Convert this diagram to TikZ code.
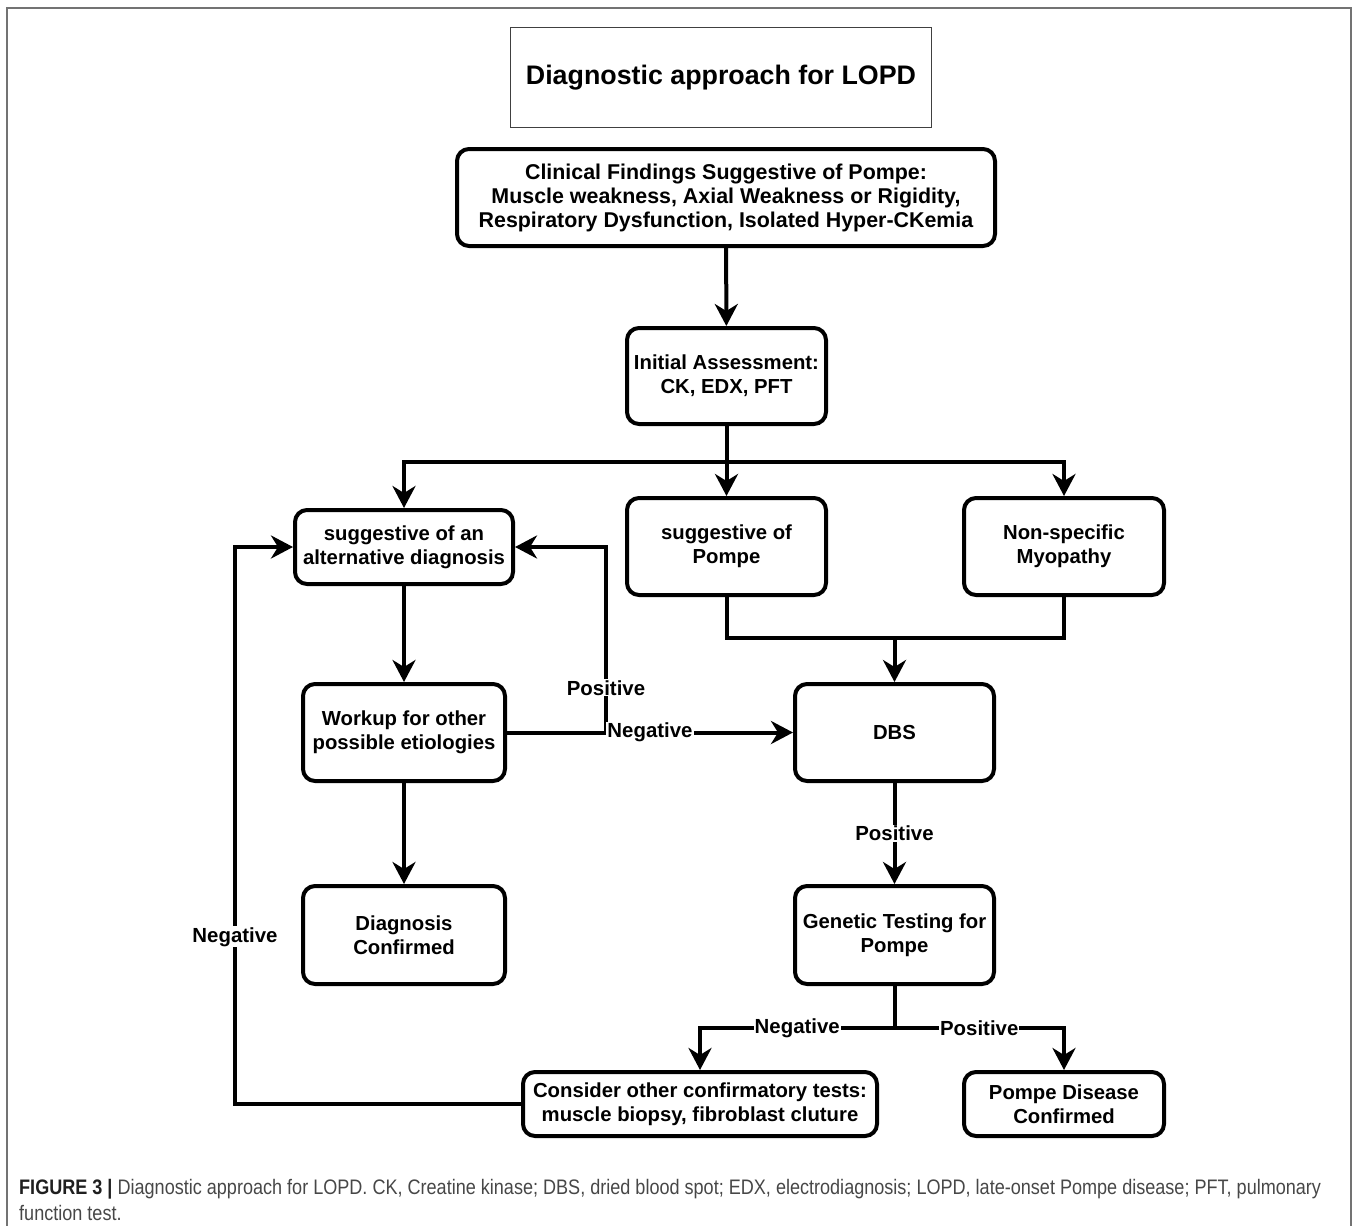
\documentclass[tikz,border=0pt]{standalone}
\usepackage{fontspec}
\setmainfont{Liberation Sans}
\newfontfamily\capfont[FakeStretch=0.86]{Liberation Sans}
\usetikzlibrary{arrows.meta}
\tikzset{
    box/.style={draw, line width=4pt, rounded corners=12pt, align=center,
        font=\fontsize{20.3}{24}\selectfont\bfseries, inner sep=2pt},
    titlebox/.style={draw=black!75, line width=1.3pt, align=center,
        font=\fontsize{26.8}{31}\selectfont\bfseries},
    arr/.style={line width=4pt, -{Stealth[length=22pt,width=23pt,inset=7pt]}},
    link/.style={line width=4pt},
    lbl/.style={fill=white, inner sep=1pt, font=\fontsize{20.4}{24}\selectfont\bfseries}
}
\begin{document}
\begin{tikzpicture}[x=1pt, y=-1pt]
    \useasboundingbox (0,0) rectangle (1358,1226);
    % Frame
    \draw[black!55, line width=1.2pt] (7,1226) -- (7,8) -- (1351,8) -- (1351,1226);

    % Title
    \node[titlebox, minimum width=421, minimum height=100] (title) at (721,77.5) {Diagnostic approach for LOPD};

    % Boxes
    \node[box, font=\fontsize{21.4}{24}\selectfont\bfseries, minimum width=538, minimum height=97] (clin) at (726,197.5)
        {Clinical Findings Suggestive of Pompe:\\Muscle weakness, Axial Weakness or Rigidity,\\Respiratory Dysfunction, Isolated Hyper-CKemia};
    \node[box, minimum width=199, minimum height=96] (init) at (726.5,376) {Initial Assessment:\\CK, EDX, PFT};
    \node[box, minimum width=218, minimum height=74] (alt) at (404,547) {suggestive of an\\alternative diagnosis};
    \node[box, minimum width=199, minimum height=97] (sugg) at (726.5,546.5) {suggestive of\\Pompe};
    \node[box, minimum width=200, minimum height=97] (nons) at (1064,546.5) {Non-specific\\Myopathy};
    \node[box, minimum width=202, minimum height=97] (work) at (404,732.5) {Workup for other\\possible etiologies};
    \node[box, minimum width=199, minimum height=97] (dbs) at (894.5,732.5) {DBS};
    \node[box, minimum width=202, minimum height=98] (dconf) at (404,935) {Diagnosis\\Confirmed};
    \node[box, minimum width=199, minimum height=98] (gen) at (894.5,935) {Genetic Testing for\\Pompe};
    \node[box, minimum width=354, minimum height=64] (cons) at (700,1104) {Consider other confirmatory tests:\\muscle biopsy, fibroblast cluture};
    \node[box, minimum width=200, minimum height=64] (pconf) at (1064,1104) {Pompe Disease\\Confirmed};

    % Branch points
    \coordinate (split1) at (726.5,462);
    \coordinate (join) at (894.5,638);
    \coordinate (bend) at (606,732.5);
    \coordinate (split2) at (894.5,1028);
    \coordinate (lb) at (235,1104);
    \coordinate (lt) at (235,547);

    % Connectors
    \draw[arr] (clin) -- (init);
    \draw[link] (init) -- (split1);
    \draw[arr] (split1) -| (alt.north);
    \draw[arr] (split1) -| (nons.north);
    \draw[arr] (split1) -- (sugg);
    \draw[link] (sugg.south) |- (join) -| (nons.south);
    \draw[arr] (join) -- (dbs);
    \draw[arr] (alt) -- (work);
    \draw[arr] (bend) |- node[lbl, pos=0.12] {Positive} (alt.east);
    \draw[arr] (work) -- node[lbl] {Negative} (dbs);
    \draw[arr] (work) -- (dconf);
    \draw[arr] (dbs) -- node[lbl] {Positive} (gen);
    \draw[link] (gen) -- (split2);
    \draw[arr] (split2) -| node[lbl, pos=0.25] {Negative} (cons.north);
    \draw[arr] (split2) -| node[lbl, pos=0.25] {Positive} (pconf.north);
    \draw[arr] (cons.west) -- (lb) -- node[lbl, pos=0.3] {Negative} (lt) -- (alt.west);

    % Caption
    \node[anchor=north west, align=left, inner sep=0pt, text=black!72,
        font=\capfont\fontsize{21}{26}\selectfont] (caption) at (19,1179)
        {{\bfseries\color{black!88}FIGURE 3 |} Diagnostic approach for LOPD. CK, Creatine kinase; DBS, dried blood spot; EDX, electrodiagnosis; LOPD, late-onset Pompe disease; PFT, pulmonary\\function test.};
\end{tikzpicture}
\end{document}
